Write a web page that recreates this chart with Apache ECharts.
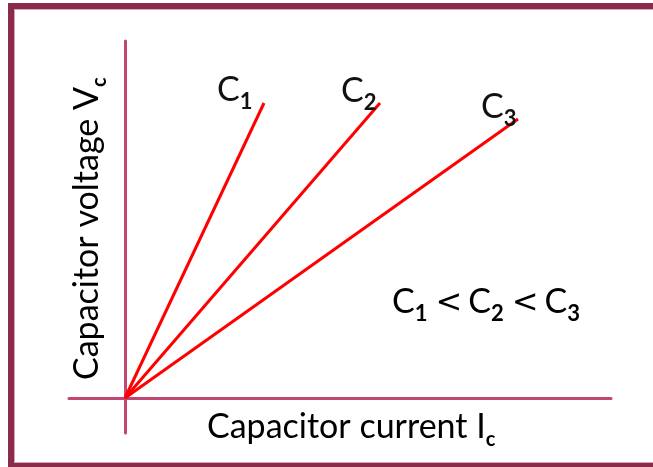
<!DOCTYPE html>
<html>
<head>
<meta charset="utf-8">
<script src="https://cdn.jsdelivr.net/npm/echarts@6/dist/echarts.min.js"></script>
<style>
  html, body { margin: 0; padding: 0; background: #fff; }
  #chart { width: 653px; height: 467px; }
</style>
</head>
<body>
<div id="chart"></div>
<script>
// capacitor current (x) vs capacitor voltage (y), arbitrary units
var lineNames = ['C1', 'C2', 'C3'];
var lineSubs = ['1', '2', '3'];
var lineStart = [0, 0];
var lineEnds = [[2.78, 5.9], [5.1, 5.9], [7.86, 5.58]];
var xRange = [-1.12, 9.72];
var yRange = [-0.7, 7.14];

var font = 'Lato';
var frameColor = '#8a2b4a';
var axisColor = '#c0476f';

// main text hangs from the top of a 40px line, subscripts sit on its bottom
var richText = {
  m: { fontFamily: font, fontSize: 34, color: '#111', lineHeight: 40, verticalAlign: 'top' },
  s: { fontFamily: font, fontSize: 20, fontWeight: 'bold', color: '#111', lineHeight: 20, verticalAlign: 'bottom' },
  d: { fontFamily: font, fontSize: 22, fontWeight: 'bold', color: '#111', lineHeight: 22, verticalAlign: 'bottom' },
  lt: { fontFamily: 'DejaVu Sans', fontSize: 32, color: '#111', lineHeight: 32, verticalAlign: 'top', padding: [3, 6, 0, 8] }
};

// label offsets next to the end of each line
var labelOffsets = [[-55, -30], [-47, -29], [-45, -29]];

var series = lineNames.map(function (name, i) {
  return {
    name: name,
    type: 'line',
    symbol: 'none',
    lineStyle: { color: '#ff0000', width: 3 },
    data: [lineStart, lineEnds[i]],
    endLabel: {
      show: true,
      formatter: '{m|C}{d|' + lineSubs[i] + '}',
      rich: richText,
      offset: labelOffsets[i],
      align: 'left',
      verticalAlign: 'top'
    },
    animation: false
  }
});

var chart = echarts.init(document.getElementById('chart'));
chart.setOption({
  animation: false,
  grid: { left: 69, right: 42, top: 41, bottom: 34 },
  xAxis: {
    type: 'value',
    min: xRange[0],
    max: xRange[1],
    axisLine: { onZero: true, lineStyle: { color: axisColor, width: 3 } },
    axisTick: { show: false },
    axisLabel: { show: false },
    splitLine: { show: false }
  },
  yAxis: {
    type: 'value',
    min: yRange[0],
    max: yRange[1],
    axisLine: { onZero: true, lineStyle: { color: axisColor, width: 3 } },
    axisTick: { show: false },
    axisLabel: { show: false },
    splitLine: { show: false }
  },
  graphic: [
    // frame
    { type: 'rect', shape: { x: 8, y: 3, width: 645, height: 6 }, style: { fill: frameColor } },
    { type: 'rect', shape: { x: 8, y: 3, width: 6, height: 464 }, style: { fill: frameColor } },
    { type: 'rect', shape: { x: 8, y: 463, width: 645, height: 4 }, style: { fill: frameColor } },
    { type: 'rect', shape: { x: 14, y: 9, width: 639, height: 1 }, style: { fill: '#d9a3b5' } },
    { type: 'rect', shape: { x: 14, y: 9, width: 1, height: 454 }, style: { fill: '#d9a3b5' } },
    { type: 'rect', shape: { x: 14, y: 462, width: 639, height: 1 }, style: { fill: '#d9a3b5' } },
    // axis titles
    {
      type: 'text', x: 207, y: 410,
      style: { text: '{m|Capacitor current I}{s|c}', rich: richText }
    },
    {
      type: 'text', x: 70, y: 380, rotation: Math.PI / 2,
      style: { text: '{m|Capacitor voltage V}{s|c}', rich: richText }
    },
    {
      type: 'text', x: 392, y: 285,
      style: { text: '{m|C}{d|1}{lt|<}{m|C}{d|2}{lt|<}{m|C}{d|3}', rich: richText }
    }
  ],
  series: series
});
</script>
</body>
</html>
